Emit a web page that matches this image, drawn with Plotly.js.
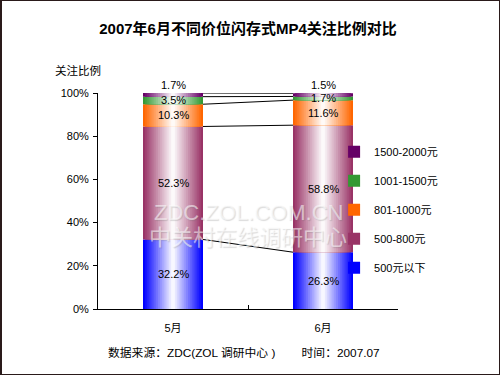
<!DOCTYPE html>
<html>
<head>
<meta charset="utf-8">
<script src="https://cdn.plot.ly/plotly-3.0.1.min.js"></script>
<style>
html,body{margin:0;padding:0;background:#fff;}
#wrap{position:relative;width:500px;height:375px;}
#chart{width:500px;height:375px;}
#frame{position:absolute;left:0;top:0;width:500px;height:375px;box-sizing:border-box;border:1px solid #2a1a1a;border-left-width:2px;pointer-events:none;}
</style>
</head>
<body>
<div id="wrap"><div id="chart"></div><div id="frame"></div></div>
<script>
// ---- data ----
const months = ['5月', '6月'];
const seriesNames = ['500元以下', '500-800元', '801-1000元', '1001-1500元', '1500-2000元'];
const mayValues = [32.2, 52.3, 10.3, 3.5, 1.7];
const juneValues = [26.3, 58.8, 11.6, 1.7, 1.5];
const yTickValues = [0, 20, 40, 60, 80, 100];
const titleText = '2007年6月不同价位闪存式MP4关注比例对比';
const yAxisLabel = '关注比例';
const footerText = '数据来源：ZDC(ZOL 调研中心 )&nbsp;&nbsp;&nbsp;&nbsp;&nbsp;&nbsp;&nbsp;&nbsp;时间：2007.07';
const watermark1 = 'ZDC.ZOL.COM.CN';
const watermark2 = '中关村在线调研中心';

// ---- styles ----
const colors = ['#0000FF', '#993366', '#FF6600', '#339933', '#660066'];
const FONT = 'Liberation Sans, Arial, Noto Sans CJK SC, sans-serif';
const BAR_W = 0.4;
const STEPS = 16;

function hexToRgb(h){return [parseInt(h.slice(1,3),16),parseInt(h.slice(3,5),16),parseInt(h.slice(5,7),16)];}
function mix(c, t){const r=hexToRgb(c);return 'rgb('+r.map(v=>Math.round(v+(255-v)*t)).join(',')+')';}

const valuesBySeries = seriesNames.map((_, i) => [mayValues[i], juneValues[i]]);
const bases = [];
const tops = [];
let acc = [0, 0];
valuesBySeries.forEach((v, i) => {
  bases.push(acc.slice());
  acc = [acc[0] + v[0], acc[1] + v[1]];
  tops.push(acc.slice());
});

const traces = [];
seriesNames.forEach((name, i) => {
  for (let k = 0; k < STEPS; k++) {
    const t = k / (STEPS - 1) * 0.97;
    traces.push({
      type: 'bar',
      name: name,
      x: months,
      y: valuesBySeries[i],
      base: bases[i],
      width: BAR_W * (1 - k / STEPS),
      marker: {color: mix(colors[i], t), line: {width: 0}},
      legendgroup: 'g' + i,
      legendrank: (seriesNames.length - i) * 10,
      showlegend: k === 0,
      hoverinfo: 'skip'
    });
  }
});

const shapes = tops.map(tp => ({
  type: 'line', xref: 'x', yref: 'y',
  x0: BAR_W / 2, x1: 1 - BAR_W / 2, y0: tp[0], y1: tp[1],
  line: {color: '#000', width: 1}
}));

const annotations = [];
seriesNames.forEach((name, i) => {
  months.forEach((m, j) => {
    const last = i === seriesNames.length - 1;
    annotations.push({
      x: m, y: last ? tops[i][j] : bases[i][j] + valuesBySeries[i][j] / 2,
      xref: 'x', yref: 'y', showarrow: false,
      yanchor: last ? 'bottom' : 'middle', yshift: 0,
      text: valuesBySeries[i][j].toFixed(1) + '%',
      font: {family: FONT, size: 11, color: '#000'}
    });
  });
});
annotations.push({xref: 'paper', yref: 'paper', x: -0.15, y: 1.105, xanchor: 'left', yanchor: 'middle', showarrow: false,
  text: yAxisLabel, font: {family: FONT, size: 11.5, color: '#000'}});
annotations.push({xref: 'paper', yref: 'paper', x: 0.025, y: -0.205, xanchor: 'left', yanchor: 'middle', showarrow: false,
  text: footerText, font: {family: FONT, size: 11.8, color: '#000'}});
annotations.push({xref: 'paper', yref: 'y', x: 0.5, y: 44.5, xanchor: 'center', yanchor: 'middle', showarrow: false,
  text: watermark1, font: {family: FONT, size: 22, color: 'rgba(255,255,255,0.55)', shadow: '1px 1px 1px rgba(110,110,110,0.45)'}});
annotations.push({xref: 'paper', yref: 'y', x: 0.5, y: 33, xanchor: 'center', yanchor: 'middle', showarrow: false,
  text: watermark2, font: {family: FONT, size: 22, color: 'rgba(255,255,255,0.55)', shadow: '1px 1px 1px rgba(110,110,110,0.45)'}});

const layout = {
  width: 500, height: 375,
  margin: {l: 98, r: 102, t: 93, b: 66, pad: 0},
  paper_bgcolor: '#fff', plot_bgcolor: '#fff',
  barmode: 'overlay',
  font: {family: FONT, size: 11, color: '#000'},
  title: {text: '<b>' + titleText + '</b>', x: 0.5, xref: 'paper', xanchor: 'center', y: 0.923, yref: 'container', yanchor: 'middle',
    font: {family: FONT, size: 15, color: '#000'}},
  xaxis: {type: 'category', range: [-0.5, 1.5], showline: true, linecolor: '#000', linewidth: 1,
    ticks: 'inside', tickson: 'boundaries', ticklen: 4, tickcolor: '#000', showgrid: false, zeroline: false,
    ticklabelstandoff: 9, tickfont: {family: FONT, size: 11}, fixedrange: true},
  yaxis: {range: [0, 100], tickvals: yTickValues, ticktext: yTickValues.map(v => v + '%'),
    showline: true, linecolor: '#000', linewidth: 1, ticks: 'outside', ticklen: 4, tickcolor: '#000',
    showgrid: false, zeroline: false, tickfont: {family: FONT, size: 11}, ticklabelstandoff: 2, fixedrange: true},
  legend: {x: 0.787, y: 0.795, xanchor: 'left', yanchor: 'top', bgcolor: 'rgba(0,0,0,0)',
    traceorder: 'grouped', tracegroupgap: 10, font: {family: FONT, size: 11}, itemclick: false},
  shapes: shapes,
  annotations: annotations,
  showlegend: true
};

Plotly.newPlot('chart', traces, layout, {displayModeBar: false, staticPlot: true});
</script>
</body>
</html>
